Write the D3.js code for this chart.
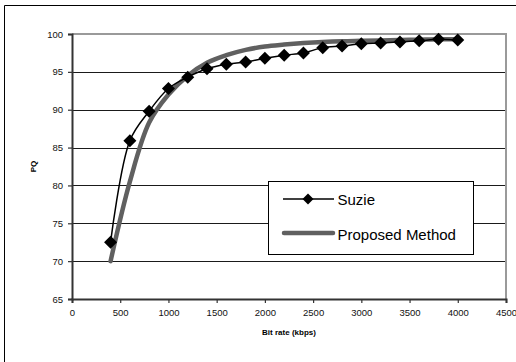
<!DOCTYPE html>
<html>
<head>
<meta charset="utf-8">
<script src="https://cdn.jsdelivr.net/npm/d3@7/dist/d3.min.js"></script>
<style>
  html, body { margin: 0; padding: 0; background: #fff; overflow: hidden; }
  svg { display: block; overflow: hidden; font-family: Arial, "Liberation Sans", sans-serif; }
</style>
</head>
<body>
<svg id="chart" width="516" height="362"></svg>
<script>
// Bit rates (kbps) at which both curves are sampled
const bitRates = [400, 600, 800, 1000, 1200, 1400, 1600, 1800, 2000, 2200,
                  2400, 2600, 2800, 3000, 3200, 3400, 3600, 3800, 4000];
// PQ of the Suzie sequence
const suzieValues = [72.5, 85.9, 89.8, 92.8, 94.3, 95.4, 96.0, 96.3, 96.8, 97.2,
                     97.5, 98.2, 98.4, 98.7, 98.8, 98.95, 99.1, 99.3, 99.2];
// PQ predicted by the proposed method
const proposedValues = [70.0, 80.5, 88.3, 92.0, 94.5, 96.2, 97.2, 97.9, 98.35, 98.6,
                        98.8, 98.95, 99.05, 99.1, 99.15, 99.2, 99.25, 99.3, 99.3];
const xTicks = [0, 500, 1000, 1500, 2000, 2500, 3000, 3500, 4000, 4500];
const yTicks = [65, 70, 75, 80, 85, 90, 95, 100];
const seriesNames = ["Suzie", "Proposed Method"];

const svg = d3.select("#chart");
const plot = { left: 72, right: 506, top: 34, bottom: 299 };

const x = d3.scaleLinear().domain([0, 4500]).range([plot.left, plot.right]);
const y = d3.scaleLinear().domain([65, 100]).range([plot.bottom, plot.top]);

// outer chart frame (left and top edges fall inside the canvas)
svg.append("path")
  .attr("d", "M4.5,362 V5.5 H516")
  .attr("fill", "none").attr("stroke", "#000").attr("stroke-width", 1);

// horizontal gridlines
svg.append("g")
  .selectAll("line")
  .data(yTicks.filter(t => t > 65 && t < 100))
  .join("line")
  .attr("x1", plot.left).attr("x2", plot.right)
  .attr("y1", d => Math.round(y(d)) + 0.5).attr("y2", d => Math.round(y(d)) + 0.5)
  .attr("stroke", "#1a1a1a").attr("stroke-width", 1);

// plot-area border (top and right)
svg.append("path")
  .attr("d", `M${plot.left},${plot.top} H${plot.right} V${plot.bottom}`)
  .attr("fill", "none").attr("stroke", "#9a9a9a").attr("stroke-width", 2);

// axes
const yAxis = d3.axisLeft(y).tickValues(yTicks).tickFormat(d3.format("d")).tickSize(4).tickPadding(5);
const xAxis = d3.axisBottom(x).tickValues(xTicks).tickFormat(d3.format("d")).tickSize(4).tickPadding(6);

const gy = svg.append("g").attr("transform", `translate(${plot.left},0)`).call(yAxis);
const gx = svg.append("g").attr("transform", `translate(0,${plot.bottom})`).call(xAxis);

[gx, gy].forEach(g => {
  g.select(".domain").attr("stroke", "#333").attr("stroke-width", 2);
  g.selectAll(".tick line").attr("stroke", "#333").attr("stroke-width", 1.2);
  g.selectAll(".tick text")
    .attr("fill", "#111")
    .style("font-size", "9.5px")
    .style("font-family", "Arial, 'Liberation Sans', sans-serif");
});

// axis titles
svg.append("text")
  .attr("x", (plot.left + plot.right) / 2).attr("y", 335)
  .attr("text-anchor", "middle")
  .style("font-size", "8px").style("font-weight", "bold")
  .text("Bit rate (kbps)");

svg.append("text")
  .attr("transform", `translate(36,${(plot.top + plot.bottom) / 2}) rotate(-90)`)
  .attr("text-anchor", "middle")
  .style("font-size", "8px").style("font-weight", "bold")
  .text("PQ");

const line = d3.line()
  .x(d => x(d[0]))
  .y(d => y(d[1]))
  .curve(d3.curveCatmullRom.alpha(0.5));

const suzie = bitRates.map((b, i) => [b, suzieValues[i]]);
const proposed = bitRates.map((b, i) => [b, proposedValues[i]]);

// proposed method: thick gray smooth curve
svg.append("path")
  .attr("d", line(proposed))
  .attr("fill", "none").attr("stroke", "#606060")
  .attr("stroke-width", 4.5).attr("stroke-linecap", "round");

// Suzie: thin black smooth curve with diamond markers
svg.append("path")
  .attr("d", line(suzie))
  .attr("fill", "none").attr("stroke", "#000").attr("stroke-width", 1.5);

const diamond = r => `M0,${-r} L${r},0 L0,${r} L${-r},0 Z`;

svg.append("g")
  .selectAll("path")
  .data(suzie)
  .join("path")
  .attr("transform", d => `translate(${x(d[0])},${y(d[1])})`)
  .attr("d", diamond(6.5))
  .attr("fill", "#000");

// legend
const legend = svg.append("g");
legend.append("rect")
  .attr("x", 268.5).attr("y", 181.5).attr("width", 205).attr("height", 73)
  .attr("fill", "#fff").attr("stroke", "#000").attr("stroke-width", 1);

legend.append("line")
  .attr("x1", 283).attr("x2", 334).attr("y1", 199).attr("y2", 199)
  .attr("stroke", "#000").attr("stroke-width", 1.5);
legend.append("path")
  .attr("transform", "translate(308,199)")
  .attr("d", diamond(5.5)).attr("fill", "#000");

legend.append("line")
  .attr("x1", 284).attr("x2", 333).attr("y1", 233).attr("y2", 233)
  .attr("stroke", "#606060").attr("stroke-width", 4.5).attr("stroke-linecap", "round");

legend.selectAll("text")
  .data(seriesNames)
  .join("text")
  .attr("x", 337.5)
  .attr("y", (d, i) => i === 0 ? 204.5 : 239.5)
  .style("font-size", "15px")
  .attr("fill", "#000")
  .text(d => d);
</script>
</body>
</html>
